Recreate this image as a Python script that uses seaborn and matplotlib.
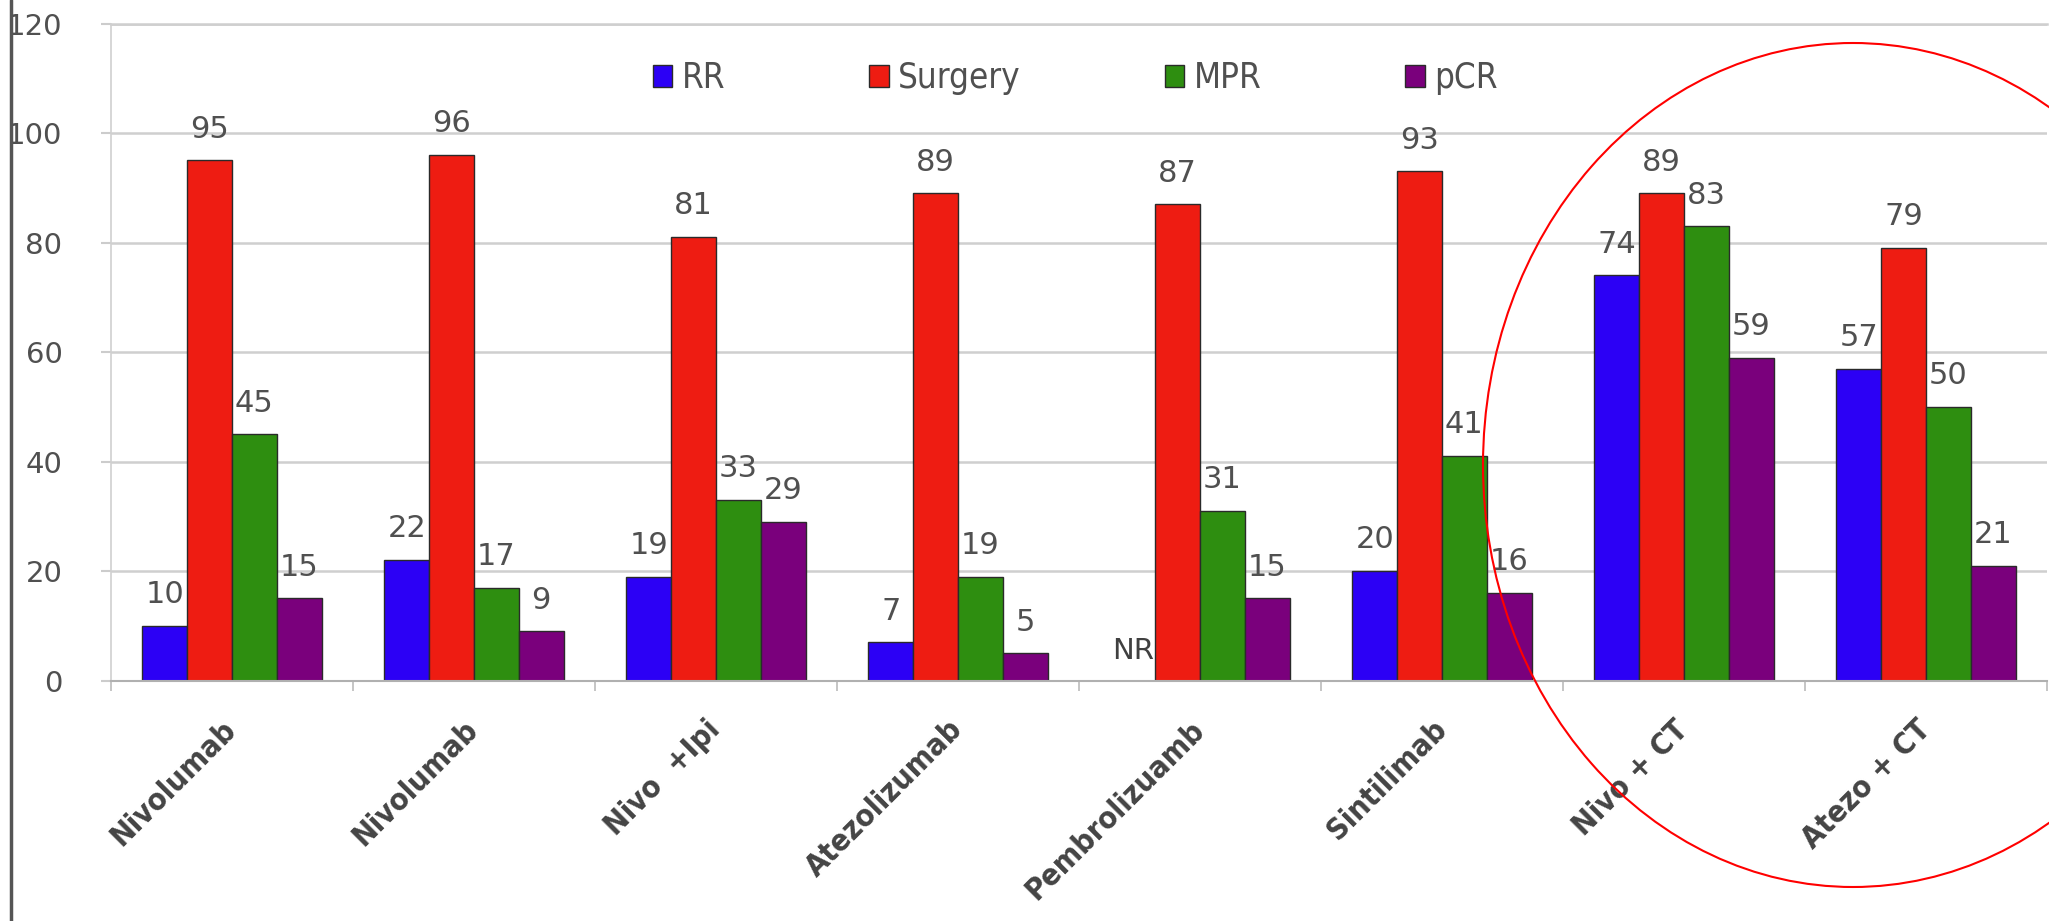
import numpy as np
import pandas as pd
import matplotlib
matplotlib.use("Agg")
import matplotlib.pyplot as plt
import seaborn as sns
from matplotlib.patches import Ellipse
from matplotlib.lines import Line2D

# Trial arms (x categories) and the four outcome series, in percent
categories = ["Nivolumab", "Nivolumab", "Nivo  +Ipi", "Atezolizumab",
              "Pembrolizuamb", "Sintilimab", "Nivo + CT", "Atezo + CT"]
series = ["RR", "Surgery", "MPR", "pCR"]
rr = [10, 22, 19, 7, np.nan, 20, 74, 57]          # NaN = not reported (NR)
surgery = [95, 96, 81, 89, 87, 93, 89, 79]
mpr = [45, 17, 33, 19, 31, 41, 83, 50]
pcr = [15, 9, 29, 5, 15, 16, 59, 21]
yticks = [0, 20, 40, 60, 80, 100, 120]
colors = ["#2c00f5", "#ee1c12", "#2e8e10", "#7a007c"]

values = [rr, surgery, mpr, pcr]
df = pd.DataFrame({
    "group": np.tile(np.arange(len(categories)), len(series)),
    "series": np.repeat(series, len(categories)),
    "value": np.concatenate([np.asarray(v, dtype=float) for v in values]),
})

sns.set_theme(style="white")
plt.rcParams["font.family"] = ["DejaVu Sans"]
TEXT = "#505050"

W, H = 2049, 921
fig = plt.figure(figsize=(W / 100, H / 100), dpi=100)
fig.patch.set_facecolor("white")
ax = fig.add_axes([111 / W, 1 - 680.6 / H, (2047 - 111) / W, 657 / H])

sns.barplot(data=df, x="group", y="value", hue="series", hue_order=series,
            palette=colors, saturation=1, width=0.74, gap=0,
            edgecolor="#2a2a2a", linewidth=1, errorbar=None, ax=ax)

# value labels above each bar; "NR" where no value was reported
for container, vals in zip(ax.containers, values):
    offset = None
    drawn = set()
    for patch in container.patches:
        xc = patch.get_x() + patch.get_width() / 2
        gi = int(round(xc))
        offset = xc - gi
        drawn.add(gi)
        ax.annotate(f"{vals[gi]:g}", (xc, patch.get_height()), xytext=(0, 12),
                    textcoords="offset points", ha="center", va="bottom",
                    fontsize=22, color=TEXT)
    for gi, v in enumerate(vals):
        if gi not in drawn and np.isnan(v):
            ax.annotate("NR", (gi + offset, 0), xytext=(0, 11),
                        textcoords="offset points", ha="center", va="bottom",
                        fontsize=21, color="#404040")

ax.set_xlim(-0.5, len(categories) - 0.5)
ax.set_ylim(0, 120)
ax.set_yticks(yticks)
ax.set_xticks(range(len(categories)))
ax.set_xticklabels(categories, rotation=45, ha="right", va="center",
                   rotation_mode="anchor", fontsize=22, fontweight="bold",
                   fontstretch="condensed", color="#444444")
ax.set_xticks(np.arange(-0.5, len(categories), 1), minor=True)
ax.tick_params(axis="x", which="major", length=0, pad=32)
ax.tick_params(axis="x", which="minor", length=7, width=1.2, color="#bbbbbb",
               bottom=True)
ax.tick_params(axis="y", length=7, width=1.5, color="#cccccc", pad=28,
               labelsize=21, labelcolor=TEXT, left=True)
ax.set_xlabel("")
ax.set_ylabel("")

ax.grid(axis="y", color="#cfcfcf", linewidth=1.8)
ax.set_axisbelow(True)
ax.spines["right"].set_visible(False)
ax.spines["top"].set_color("#cfcfcf")
ax.spines["top"].set_linewidth(1.8)
ax.spines["left"].set_color("#d0d0d0")
ax.spines["left"].set_linewidth(1.2)
ax.spines["bottom"].set_color("#b0b0b0")
ax.spines["bottom"].set_linewidth(1.5)

sns.move_legend(ax, "center", bbox_to_anchor=(0.498, 0.917), ncol=4,
                frameon=False, title=None, fontsize=25, handlelength=0.57,
                handleheight=0.57, handletextpad=0.26, columnspacing=4.15)
for t in ax.get_legend().get_texts():
    t.set_color(TEXT)
    t.set_fontstretch("condensed")

# dark rule along the left edge of the figure
fig.add_artist(Line2D([11 / W, 11 / W], [0, 1], transform=fig.transFigure,
                      color="#555555", linewidth=2.5))

# red ellipse highlighting the chemo-combination arms
fig.add_artist(Ellipse((1853 / W, 1 - 465 / H), 740 / W, 844 / H,
                       transform=fig.transFigure, fill=False,
                       edgecolor="#ff0000", linewidth=1.5))

fig.savefig("out.png", dpi=100, facecolor="white")
